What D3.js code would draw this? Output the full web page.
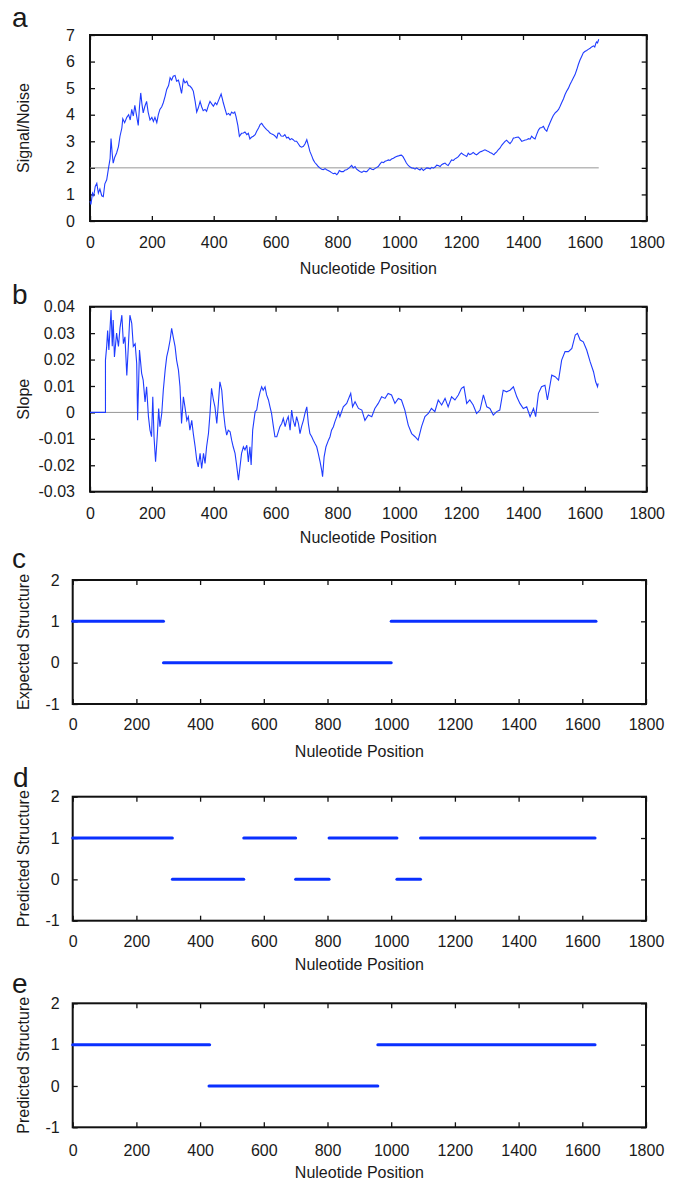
<!DOCTYPE html>
<html>
<head>
<meta charset="utf-8">
<script src="https://cdn.jsdelivr.net/npm/d3@7"></script>
<style>
  body { margin: 0; background: #fff; }
  text { font-family: 'Liberation Sans', Arial, sans-serif; fill: #1a1a1a; }
</style>
</head>
<body>
<div id="chart"></div>
<script>
// panel a - signal/noise along the sequence [position, value]
var snPoints = [
  [0,0.75],[3,0.62],[8,1.05],[12,0.95],[17,1.3],[22,1.42],[27,1.05],[32,1.2],[38,0.95],[43,0.92],
  [48,1.4],[54,1.55],[60,2.0],[65,2.35],[68,3.1],[72,2.5],[75,2.18],[80,2.4],[86,2.56],[92,2.8],
  [97,3.19],[103,3.5],[106,3.85],[112,3.7],[119,3.9],[125,4.0],[130,3.8],[135,4.2],[140,3.95],[145,4.35],
  [150,4.0],[156,3.6],[160,4.3],[164,4.82],[168,4.4],[172,4.07],[177,4.3],[183,4.5],[188,4.1],[194,3.8],
  [200,3.9],[205,3.75],[210,3.9],[216,3.7],[221,4.0],[226,4.2],[232,4.3],[237,4.45],[243,4.7],[248,4.95],
  [254,5.1],[259,5.39],[264,5.3],[269,5.45],[275,5.48],[280,5.26],[286,5.3],[291,5.08],[296,4.8],[302,5.33],
  [307,5.2],[313,5.26],[318,5.1],[323,5.08],[329,5.0],[334,4.89],[340,4.5],[345,4.1],[350,4.25],[356,4.5],
  [361,4.3],[366,4.15],[372,4.2],[377,4.13],[383,4.35],[388,4.5],[394,4.4],[399,4.32],[405,4.45],[410,4.38],
  [416,4.55],[424,4.78],[428,4.6],[431,4.45],[437,4.2],[442,4.0],[448,4.05],[453,3.98],[458,4.1],[463,4.05],
  [468,4.1],[472,3.94],[478,3.6],[483,3.19],[490,3.3],[496,3.31],[501,3.35],[507,3.25],[512,3.3],[517,3.09],
  [522,3.15],[528,3.19],[534,3.25],[539,3.38],[545,3.5],[550,3.63],[555,3.68],[560,3.59],[566,3.5],[571,3.44],
  [577,3.38],[582,3.31],[588,3.27],[593,3.25],[598,3.2],[604,3.12],[608,3.3],[612,3.31],[618,3.2],[625,3.19],
  [630,3.25],[636,3.12],[641,3.15],[647,3.06],[652,3.1],[657,3.06],[662,3.0],[668,3.0],[674,2.9],[679,2.81],
  [684,2.78],[690,2.81],[695,2.9],[701,3.06],[706,2.85],[711,2.62],[717,2.45],[722,2.3],[727,2.2],[733,2.12],
  [738,2.05],[744,1.99],[749,1.95],[754,1.93],[760,1.97],[765,1.93],[770,1.9],[776,1.86],[781,1.82],[787,1.78],
  [792,1.8],[798,1.74],[803,1.82],[806,1.9],[812,1.86],[819,1.86],[825,1.92],[830,1.93],[838,2.0],[846,2.09],
  [851,2.0],[857,2.05],[862,1.95],[868,1.9],[874,1.85],[879,1.83],[885,1.88],[890,1.86],[895,1.86],[900,1.92],
  [905,1.99],[911,1.95],[916,1.93],[922,1.98],[932,2.05],[938,2.15],[943,2.22],[949,2.2],[954,2.25],[959,2.27],
  [965,2.3],[970,2.28],[975,2.33],[981,2.36],[986,2.4],[991,2.43],[997,2.45],[1002,2.47],[1007,2.48],[1012,2.42],
  [1018,2.3],[1023,2.18],[1029,2.09],[1035,2.03],[1040,2.0],[1045,1.99],[1051,1.95],[1056,2.0],[1061,1.96],[1067,1.92],
  [1072,1.98],[1078,1.9],[1083,1.95],[1089,2.0],[1094,1.99],[1100,1.96],[1105,2.02],[1110,1.99],[1116,2.03],[1121,2.1],
  [1126,2.09],[1132,2.05],[1137,2.12],[1142,2.15],[1148,2.18],[1153,2.12],[1158,2.09],[1164,2.2],[1169,2.3],[1175,2.28],
  [1180,2.34],[1185,2.37],[1191,2.42],[1196,2.5],[1201,2.56],[1207,2.5],[1212,2.47],[1218,2.43],[1223,2.55],[1228,2.5],
  [1234,2.53],[1239,2.58],[1245,2.52],[1250,2.49],[1256,2.55],[1261,2.6],[1266,2.62],[1272,2.65],[1277,2.68],[1283,2.64],
  [1288,2.62],[1293,2.58],[1299,2.55],[1306,2.49],[1310,2.55],[1315,2.6],[1320,2.68],[1326,2.75],[1331,2.85],[1337,2.93],
  [1342,3.0],[1347,3.04],[1352,2.98],[1358,2.91],[1364,3.0],[1369,3.12],[1374,3.13],[1380,3.15],[1385,3.16],[1390,3.1],
  [1396,3.0],[1401,3.02],[1407,3.05],[1412,3.06],[1418,3.1],[1423,3.08],[1428,3.19],[1434,3.12],[1439,3.09],[1444,3.25],
  [1450,3.42],[1455,3.5],[1461,3.52],[1466,3.56],[1471,3.45],[1477,3.38],[1482,3.55],[1487,3.69],[1493,3.85],[1498,3.97],
  [1504,4.07],[1509,4.12],[1515,4.2],[1520,4.32],[1525,4.45],[1531,4.6],[1536,4.76],[1541,4.88],[1547,5.0],[1552,5.14],
  [1557,5.25],[1563,5.39],[1568,5.5],[1574,5.7],[1579,5.89],[1584,6.05],[1590,6.2],[1595,6.33],[1600,6.38],[1606,6.42],
  [1611,6.46],[1617,6.5],[1622,6.55],[1628,6.59],[1632,6.55],[1636,6.7],[1638,6.74],[1641,6.7],[1645,6.84]
];

// panel b - slope [position, value]
var slopePoints = [
  [0,0],[50,0],[50,0.0198],[54,0.025],[57,0.031],[61,0.0236],[68,0.0387],[72,0.025],[75,0.035],[79,0.021],
  [86,0.030],[92,0.025],[97,0.032],[103,0.0368],[108,0.026],[113,0.0286],[119,0.014],[124,0.025],[129,0.0368],[135,0.0337],
  [140,0.025],[146,0.026],[151,0.0185],[154,-0.003],[160,0.0236],[167,0.0148],[172,0.0122],[178,0.004],[183,0.0097],[189,-0.0016],
  [194,-0.0067],[199,-0.0092],[203,0.0059],[207,-0.0092],[212,-0.0187],[218,-0.008],[222,0.0015],[226,-0.0054],[232,-0.0004],[237,0.0084],
  [243,0.016],[248,0.021],[253,0.0236],[259,0.0274],[264,0.0318],[269,0.0286],[275,0.025],[280,0.0198],[286,0.016],[291,0.0097],
  [296,-0.0042],[302,0.0059],[307,0.0021],[313,-0.003],[318,-0.0016],[323,-0.0067],[329,-0.003],[334,-0.008],[340,-0.013],[345,-0.018],
  [350,-0.0206],[356,-0.0155],[361,-0.0212],[367,-0.0155],[372,-0.0193],[377,-0.013],[383,-0.008],[388,-0.0004],[393,0.0091],[399,0.0047],
  [404,0.0021],[410,-0.0042],[415,0.0034],[420,0.0116],[426,0.0084],[431,0.0009],[437,-0.0054],[442,-0.0086],[447,-0.0067],[453,-0.0073],
  [458,-0.0105],[463,-0.013],[469,-0.0155],[474,-0.0199],[480,-0.0256],[485,-0.0206],[490,-0.0155],[496,-0.013],[501,-0.0142],[507,-0.0124],
  [512,-0.0187],[517,-0.013],[521,-0.0199],[526,-0.0067],[534,0.0003],[539,0.0009],[544,0.0047],[550,0.0078],[555,0.0097],[560,0.0084],
  [566,0.0097],[571,0.0066],[577,0.0047],[582,0.0021],[587,-0.0004],[593,-0.0054],[598,-0.0092],[604,-0.0092],[609,-0.0073],[614,-0.0054],
  [620,-0.0042],[625,-0.0023],[631,-0.0054],[636,-0.003],[641,-0.0016],[647,-0.0067],[652,0.0009],[657,-0.003],[663,-0.0054],[668,-0.0016],
  [674,-0.0042],[679,-0.008],[684,-0.0054],[690,-0.003],[695,-0.0004],[701,0.0021],[706,-0.0042],[711,-0.008],[717,-0.0092],[722,-0.0105],
  [727,-0.0117],[733,-0.013],[738,-0.0155],[744,-0.0187],[749,-0.0218],[752,-0.0243],[757,-0.0168],[763,-0.013],[771,-0.0105],[776,-0.0092],
  [781,-0.0067],[787,-0.0054],[792,-0.0035],[798,-0.0016],[803,0.0003],[808,-0.0016],[819,0.0021],[830,0.0034],[843,0.0072],[849,0.0021],
  [857,0.004],[868,0.0015],[879,0.0009],[889,-0.003],[900,-0.001],[911,-0.0016],[921,0.0015],[932,0.0034],[943,0.0059],[954,0.0053],
  [964,0.0072],[975,0.0066],[986,0.0034],[997,0.0053],[1007,0.0047],[1018,0.0009],[1029,-0.0048],[1040,-0.008],[1051,-0.0092],[1061,-0.0105],
  [1072,-0.0054],[1083,-0.0016],[1094,-0.0004],[1104,0.0015],[1115,0.0003],[1126,0.0047],[1137,0.0028],[1148,0.0053],[1158,0.0021],[1169,0.0059],
  [1180,0.0047],[1191,0.0066],[1201,0.0091],[1209,0.0097],[1218,0.0034],[1228,0.0047],[1239,0.0028],[1250,-0.0004],[1261,0.0009],[1272,0.0066],
  [1283,0.0021],[1293,0.0015],[1304,-0.001],[1315,0.0003],[1325,0.0009],[1336,0.0084],[1347,0.0078],[1358,0.0084],[1369,0.0097],[1380,0.0059],
  [1390,0.0034],[1401,0.0015],[1412,0.0021],[1423,-0.0016],[1434,0.0015],[1441,-0.0016],[1450,0.0072],[1460,0.0097],[1471,0.0103],[1479,0.0047],
  [1493,0.0141],[1504,0.0135],[1515,0.0122],[1525,0.0198],[1536,0.023],[1547,0.023],[1558,0.0242],[1569,0.0293],[1576,0.0299],[1585,0.0274],
  [1595,0.0267],[1606,0.0236],[1617,0.0192],[1628,0.0154],[1635,0.0116],[1641,0.0097],[1643,0.011]
];

// panels c, d, e - structure segments [start, end, level]
var expectedSegments = [[0,285,1],[285,1000,0],[1000,1643,1]];
var predictedSegmentsD = [[0,313,1],[313,537,0],[537,700,1],[700,805,0],[805,1018,1],[1018,1092,0],[1092,1640,1]];
var predictedSegmentsE = [[0,430,1],[428,958,0],[958,1640,1]];

var xTicks = [0,200,400,600,800,1000,1200,1400,1600,1800];
var snTicks = [0,1,2,3,4,5,6,7];
var slopeTicks = [-0.03,-0.02,-0.01,0,0.01,0.02,0.03,0.04];
var slopeLabels = ['-0.03','-0.02','-0.01','0','0.01','0.02','0.03','0.04'];
var structTicks = [-1,0,1,2];

var svg = d3.select('#chart').append('svg')
  .attr('width', 680)
  .attr('height', 1182);

var blue = '#1f3cff';

function drawPanel(p) {
  var x = d3.scaleLinear().domain([0, 1800]).range([p.left, p.right]);
  var y = d3.scaleLinear().domain(p.yDomain).range([p.bottom, p.top]);
  var g = svg.append('g');

  // bottom axis with labels, ticks inward
  var bx = g.append('g').attr('transform', 'translate(0,' + p.bottom + ')')
    .call(d3.axisBottom(x).tickValues(xTicks).tickSize(-5).tickPadding(p.xPad).tickFormat(d => String(d)));
  var tx = g.append('g').attr('transform', 'translate(0,' + p.top + ')')
    .call(d3.axisTop(x).tickValues(xTicks).tickSize(-5).tickFormat(''));
  var ly = g.append('g').attr('transform', 'translate(' + p.left + ',0)')
    .call(d3.axisLeft(y).tickValues(p.yTicks).tickSize(-5).tickPadding(p.yPad)
      .tickFormat((d, i) => p.yLabels ? p.yLabels[i] : String(d)));
  var ry = g.append('g').attr('transform', 'translate(' + p.right + ',0)')
    .call(d3.axisRight(y).tickValues(p.yTicks).tickSize(-5).tickFormat(''));

  [bx, tx, ly, ry].forEach(function(a) {
    a.select('.domain').remove();
    a.selectAll('line').attr('stroke', '#111').attr('stroke-width', 1.3);
    a.selectAll('text').style('font-size', '16px').style('font-family', "'Liberation Sans', Arial, sans-serif").attr('fill', '#1a1a1a');
  });

  // frame
  g.append('rect')
    .attr('x', p.left).attr('y', p.top)
    .attr('width', p.right - p.left).attr('height', p.bottom - p.top)
    .attr('fill', 'none').attr('stroke', '#111').attr('stroke-width', 2);

  // reference line
  if (p.refLine !== undefined) {
    g.append('line')
      .attr('x1', x(0)).attr('x2', x(1645))
      .attr('y1', y(p.refLine)).attr('y2', y(p.refLine))
      .attr('stroke', '#8a8a8a').attr('stroke-width', 0.9);
  }

  if (p.points) {
    var line = d3.line().x(d => x(d[0])).y(d => y(d[1]));
    g.append('path')
      .datum(p.points)
      .attr('d', line)
      .attr('fill', 'none')
      .attr('stroke', blue)
      .attr('stroke-width', 1.1);
  }

  if (p.segments) {
    g.selectAll('.seg')
      .data(p.segments)
      .join('line')
      .attr('x1', d => x(d[0]))
      .attr('x2', d => x(d[1]))
      .attr('y1', d => y(d[2]))
      .attr('y2', d => y(d[2]))
      .attr('stroke', '#0a30ff')
      .attr('stroke-width', 3)
      .attr('stroke-linecap', 'round');
  }

  // axis titles
  g.append('text')
    .attr('x', (p.left + p.right) / 2)
    .attr('y', p.bottom + p.titleOff)
    .attr('text-anchor', 'middle')
    .style('font-size', '16px')
    .text(p.xTitle);

  g.append('text')
    .attr('transform', 'translate(23,' + (p.top + p.bottom) / 2 + ') rotate(-90)')
    .attr('text-anchor', 'middle')
    .attr('dominant-baseline', 'central')
    .style('font-size', '16px')
    .text(p.yTitle);

  // panel letter
  g.append('text')
    .attr('x', p.letterX)
    .attr('y', p.letterY)
    .style('font-size', '28px')
    .text(p.letter);
}

drawPanel({
  left: 90, right: 646.7, top: 35, bottom: 221,
  yDomain: [0, 7], yTicks: snTicks, xPad: 16, yPad: 15, titleOff: 52.5,
  refLine: 2, points: snPoints,
  xTitle: 'Nucleotide Position', yTitle: 'Signal/Noise',
  letter: 'a', letterX: 12, letterY: 27
});

drawPanel({
  left: 90, right: 646.7, top: 306.7, bottom: 491.7,
  yDomain: [-0.03, 0.04], yTicks: slopeTicks, yLabels: slopeLabels, xPad: 16, yPad: 15, titleOff: 51,
  refLine: 0, points: slopePoints,
  xTitle: 'Nucleotide Position', yTitle: 'Slope',
  letter: 'b', letterX: 12, letterY: 304
});

drawPanel({
  left: 72.7, right: 646, top: 580, bottom: 704,
  yDomain: [-1, 2], yTicks: structTicks, xPad: 15, yPad: 13, titleOff: 52.5,
  segments: expectedSegments,
  xTitle: 'Nuleotide Position', yTitle: 'Expected Structure',
  letter: 'c', letterX: 12, letterY: 568
});

drawPanel({
  left: 72.7, right: 646, top: 796.7, bottom: 920.7,
  yDomain: [-1, 2], yTicks: structTicks, xPad: 15, yPad: 13, titleOff: 49.5,
  segments: predictedSegmentsD,
  xTitle: 'Nuleotide Position', yTitle: 'Predicted Structure',
  letter: 'd', letterX: 13, letterY: 787
});

drawPanel({
  left: 72.7, right: 646, top: 1003.3, bottom: 1127.3,
  yDomain: [-1, 2], yTicks: structTicks, xPad: 17, yPad: 13, titleOff: 51,
  segments: predictedSegmentsE,
  xTitle: 'Nuleotide Position', yTitle: 'Predicted Structure',
  letter: 'e', letterX: 12, letterY: 993
});
</script>
</body>
</html>
